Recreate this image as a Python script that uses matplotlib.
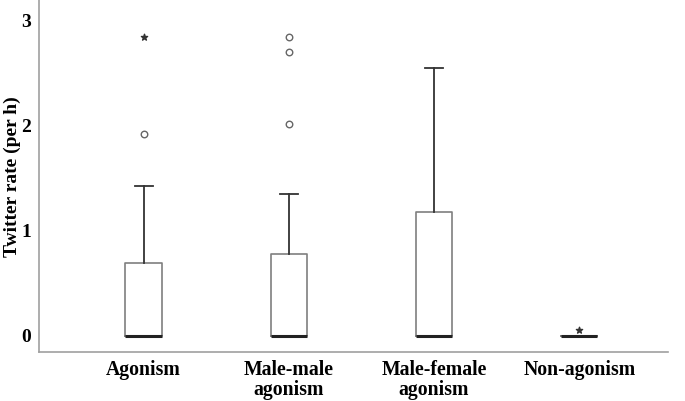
import matplotlib
matplotlib.use("Agg")
import matplotlib.pyplot as plt

categories = ["Agonism", "Male-male\nagonism", "Male-female\nagonism", "Non-agonism"]
q1 = [0.0, 0.0, 0.0, 0.0]
med = [0.0, 0.0, 0.0, 0.0]
q3 = [0.69, 0.78, 1.18, 0.0]
whislo = [0.0, 0.0, 0.0, 0.0]
whishi = [1.43, 1.35, 2.55, 0.0]
outlier_cat = [0, 1, 1, 1]
outlier_val = [1.92, 2.85, 2.70, 2.02]
extreme_cat = [0, 3]
extreme_val = [2.85, 0.06]
yticks = [0, 1, 2, 3]

plt.rcParams['font.family'] = ['Liberation Serif', 'DejaVu Serif']
fig = plt.figure(figsize=(6.85, 4.01), dpi=100)
ax = fig.add_axes([0.057, 0.122, 0.918, 0.878])

stats = []
for i in range(len(categories)):
    stats.append(dict(med=med[i], q1=q1[i], q3=q3[i], whislo=whislo[i],
                      whishi=whishi[i], fliers=[], label=categories[i]))
pos = list(range(len(categories)))
ax.bxp(stats, positions=pos, widths=0.25, showfliers=False,
       boxprops=dict(color="#7f7f7f", linewidth=1.2),
       medianprops=dict(color="#222222", linewidth=2.2),
       whiskerprops=dict(color="#333333", linewidth=1.3),
       capprops=dict(color="#333333", linewidth=1.3),
       capwidths=0.125)

ax.scatter(outlier_cat, outlier_val, s=22, marker='o', facecolors='white',
           edgecolors='#666666', linewidths=1.0, zorder=3)
ax.scatter(extreme_cat, extreme_val, s=22, marker='*', color='#333333', zorder=3)

ax.set_xlim(-0.72, 3.61)
ax.set_ylim(-0.155, 3.2)
ax.set_yticks(yticks)
ax.set_yticklabels([str(t) for t in yticks], fontsize=14, fontweight='bold')
ax.set_xticks(pos)
ax.set_xticklabels(categories, fontsize=14.2, fontweight='bold', linespacing=0.95)
ax.tick_params(axis='x', length=0, pad=6)
ax.tick_params(axis='y', length=0, pad=6)
ax.set_ylabel("Twitter rate (per h)", fontsize=14, fontweight='bold')
ax.yaxis.set_label_coords(-0.0286, 0.497)
for s in ['top', 'right']:
    ax.spines[s].set_visible(False)
for s in ['left', 'bottom']:
    ax.spines[s].set_color('#a0a0a0')
    ax.spines[s].set_linewidth(1.2)

fig.savefig("out.png", dpi=100)
